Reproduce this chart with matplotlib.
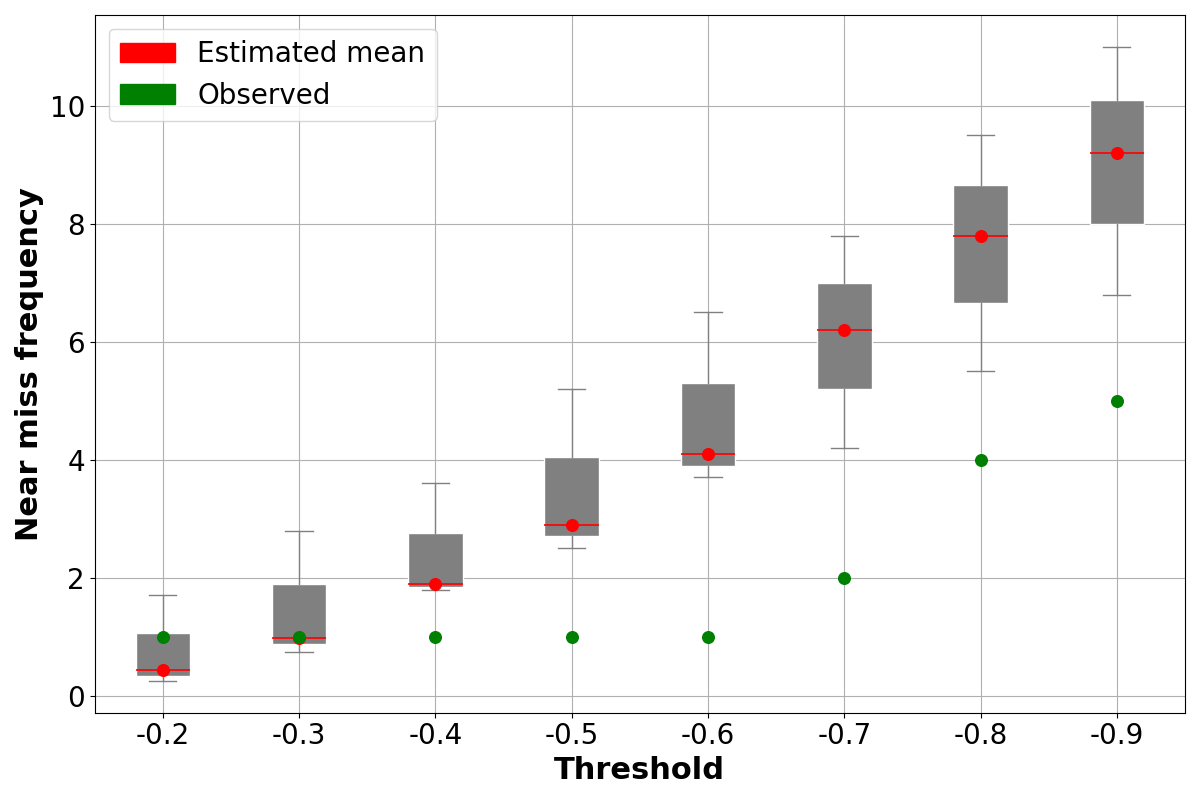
import numpy as np
import matplotlib.pyplot as plt
from matplotlib.patches import Patch

thresholds = ['-0.2', '-0.3', '-0.4', '-0.5', '-0.6', '-0.7', '-0.8', '-0.9']
whislo = [0.25, 0.75, 1.80, 2.50, 3.70, 4.20, 5.50, 6.80]
q1 = [0.33, 0.87, 1.85, 2.70, 3.90, 5.20, 6.65, 8.00]
med = [0.44, 0.98, 1.90, 2.90, 4.10, 6.20, 7.80, 9.20]
q3 = [1.07, 1.90, 2.76, 4.05, 5.30, 7.00, 8.65, 10.10]
whishi = [1.71, 2.80, 3.61, 5.20, 6.50, 7.80, 9.50, 11.00]
est_mean = [0.44, 0.98, 1.90, 2.90, 4.10, 6.20, 7.80, 9.20]
observed = [1, 1, 1, 1, 1, 2, 4, 5]

stats = []
for i in range(len(thresholds)):
    stats.append({'whislo': whislo[i], 'q1': q1[i], 'med': med[i], 'q3': q3[i],
                  'whishi': whishi[i], 'fliers': [], 'label': thresholds[i]})

fig, ax = plt.subplots(figsize=(12, 8), dpi=100)
ax.grid(True, color='#b0b0b0', zorder=0)
ax.set_axisbelow(True)
pos = np.arange(1, len(thresholds) + 1)
ax.bxp(stats, positions=pos, widths=0.4, patch_artist=True,
       boxprops=dict(facecolor='grey', edgecolor='white', linewidth=1),
       whiskerprops=dict(color='grey'), capprops=dict(color='grey'),
       medianprops=dict(color='red', linewidth=1.2))
ax.scatter(pos, est_mean, color='red', s=70, zorder=5)
ax.scatter(pos, observed, color='green', s=70, zorder=5)

ax.set_xlabel('Threshold', fontsize=22, fontweight='bold')
ax.set_ylabel('Near miss frequency', fontsize=22, fontweight='bold')
ax.tick_params(labelsize=20)
ax.legend(handles=[Patch(color='red', label='Estimated mean'),
                   Patch(color='green', label='Observed')],
          loc='upper left', fontsize=20)
plt.tight_layout()
plt.savefig('out.png', dpi=100)
